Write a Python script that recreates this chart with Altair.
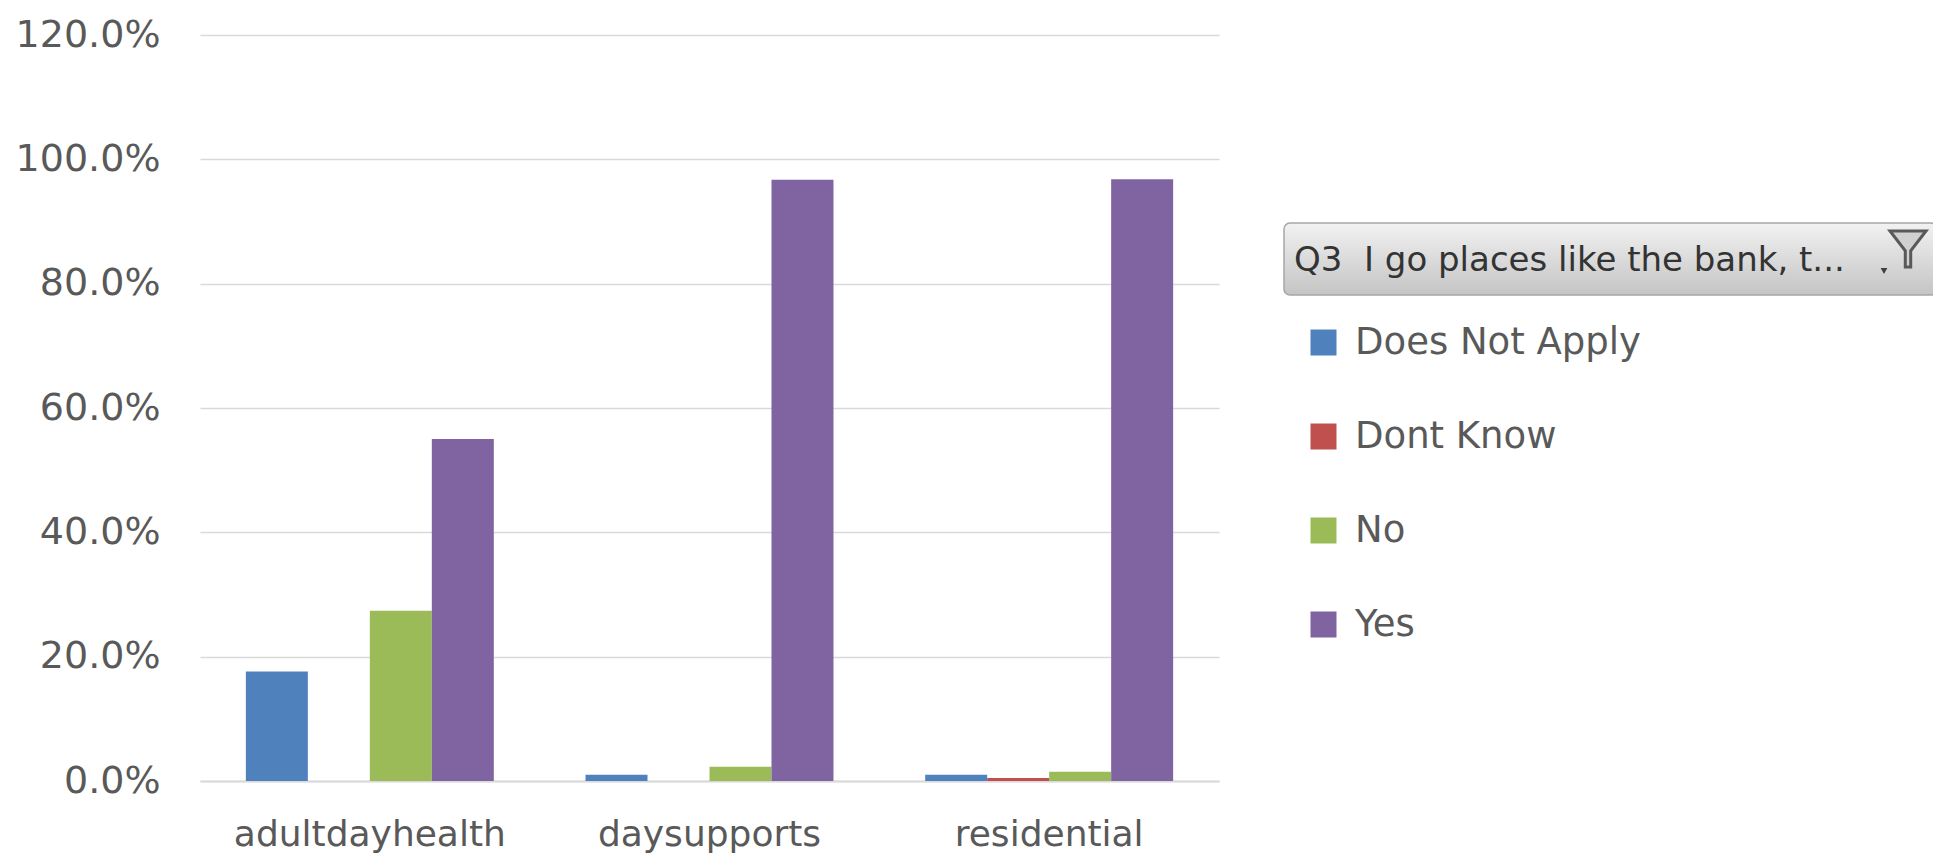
import altair as alt
import pandas as pd

categories = ["adultdayhealth", "daysupports", "residential"]
series = ["Does Not Apply", "Dont Know", "No", "Yes"]
does_not_apply = [0.176, 0.010, 0.010]
dont_know = [0.0, 0.0, 0.005]
no = [0.274, 0.023, 0.015]
yes = [0.550, 0.967, 0.968]
colors = ["#4F81BD", "#C0504D", "#9BBB59", "#8064A2"]
legend_title = "Q3\u00a0\u00a0I go places like the bank, t..."

rows = []
for i, c in enumerate(categories):
    for s, vals in zip(series, [does_not_apply, dont_know, no, yes]):
        rows.append({"category": c, "answer": s, "value": vals[i]})
df = pd.DataFrame(rows)

W, H = 1019, 746
FONT = "DejaVu Sans"
GRAY = "#595959"

bars = alt.Chart(df).mark_bar().encode(
    x=alt.X("category:N", sort=categories, title=None,
            scale=alt.Scale(paddingInner=0.27, paddingOuter=0.135),
            axis=alt.Axis(labelAngle=0, labelFont=FONT, labelFontSize=36, labelColor=GRAY,
                          labelLimit=0, labelPadding=36, ticks=False, domainColor="#D9D9D9",
                          domainWidth=2, grid=False)),
    xOffset=alt.XOffset("answer:N", sort=series, scale=alt.Scale(domain=series, paddingInner=0, paddingOuter=0)),
    y=alt.Y("value:Q", title=None,
            scale=alt.Scale(domain=[0, 1.2], nice=False),
            axis=alt.Axis(format=".1%", values=[0, 0.2, 0.4, 0.6, 0.8, 1.0, 1.2],
                          labelFont=FONT, labelFontSize=38, labelColor=GRAY, labelPadding=40,
                          ticks=False, domain=False, gridColor="#D9D9D9", gridWidth=1.5)),
    color=alt.Color("answer:N", sort=series,
                    scale=alt.Scale(domain=series, range=colors),
                    legend=alt.Legend(orient="none", legendX=1105, legendY=289, title=None,
                                      symbolType="square", symbolSize=676, symbolStrokeWidth=0,
                                      labelFont=FONT, labelFontSize=37, labelColor=GRAY,
                                      labelLimit=500, rowPadding=56, labelOffset=13, padding=0)),
)

one = pd.DataFrame({"k": [0]})
box = alt.Chart(one).mark_rect(
    cornerRadius=6, stroke="#A6A6A6", strokeWidth=1.5,
    fill=alt.Gradient(gradient="linear", x1=0, x2=0, y1=0, y2=1,
                      stops=[alt.GradientStop(color="#F2F2F2", offset=0),
                             alt.GradientStop(color="#C4C4C4", offset=1)]),
).encode(x=alt.value(1084), x2=alt.value(1737), y=alt.value(188), y2=alt.value(260))

title_txt = alt.Chart(one).mark_text(
    align="left", baseline="middle", font=FONT, fontSize=34, color="#333333",
    text=legend_title,
).encode(x=alt.value(1094), y=alt.value(226))

funnel = alt.Chart(one).mark_point(
    shape="M-1,-1L1,-1L0.15,0.1L0.15,1L-0.15,1L-0.15,0.1Z", size=1300,
    filled=True, fill="#D0D0D0", stroke="#595959", strokeWidth=3, opacity=1,
).encode(x=alt.value(1708), y=alt.value(214))

arrow = alt.Chart(one).mark_point(
    shape="triangle-down", size=45, filled=True, color="#404040", opacity=1,
).encode(x=alt.value(1684), y=alt.value(236))

chart = alt.layer(bars, box, title_txt, funnel, arrow).properties(
    width=W, height=H,
    background="white",
    autosize=alt.AutoSizeParams(type="none"),
    padding={"left": 192, "top": 27, "right": 714, "bottom": 78},
).configure_view(strokeWidth=0)

chart.save("out.html", embed_options={"renderer": "svg", "actions": False})
